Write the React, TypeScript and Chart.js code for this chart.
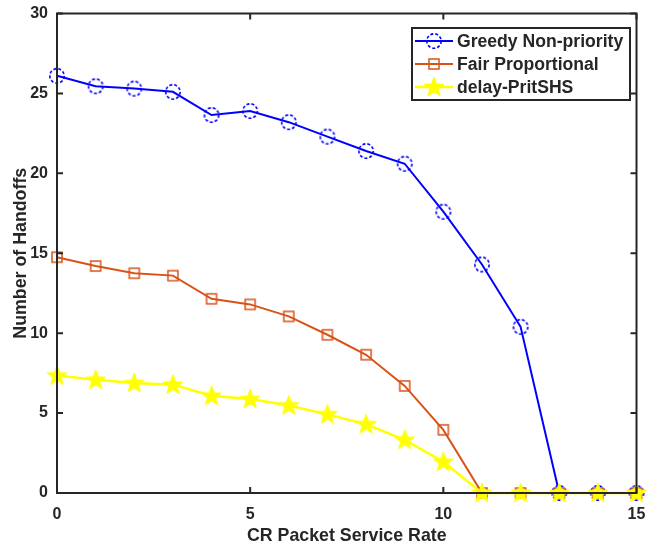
import React, { useEffect, useRef } from "react";
import { Chart, registerables } from "chart.js";

Chart.register(...registerables);

const xValues = [0, 1, 2, 3, 4, 5, 6, 7, 8, 9, 10, 11, 12, 13, 14, 15];
const greedy = [26.1, 25.45, 25.3, 25.1, 23.65, 23.9, 23.2, 22.3, 21.4, 20.6, 17.6, 14.3, 10.4, 0, 0, 0];
const fair = [14.75, 14.2, 13.75, 13.6, 12.15, 11.8, 11.05, 9.9, 8.65, 6.7, 3.95, 0, 0, 0, 0, 0];
const delay = [7.35, 7.08, 6.88, 6.78, 6.08, 5.88, 5.48, 4.92, 4.3, 3.33, 1.95, 0, 0, 0, 0, 0];
const seriesNames = ["Greedy Non-priority", "Fair Proportional", "delay-PritSHS"];
const xTitle = "CR Packet Service Rate";
const yTitle = "Number of Handoffs";

const BLUE = "#0000FF";
const ORANGE = "#D95319";
const YELLOW = "#FFFF00";
const AXIS = "#262626";
const FONT = "'Liberation Sans', Arial, sans-serif";

function makeCircle(): HTMLCanvasElement {
  const c = document.createElement("canvas");
  c.width = 20; c.height = 20;
  const g = c.getContext("2d")!;
  g.strokeStyle = BLUE;
  g.lineWidth = 1.6;
  g.setLineDash([3, 2]);
  g.beginPath();
  g.arc(10, 10, 7.2, 0, Math.PI * 2);
  g.stroke();
  return c;
}
function makeSquare(): HTMLCanvasElement {
  const c = document.createElement("canvas");
  c.width = 16; c.height = 16;
  const g = c.getContext("2d")!;
  g.strokeStyle = ORANGE;
  g.lineWidth = 1.5;
  g.strokeRect(3, 3, 10, 10);
  return c;
}
function makeStar(): HTMLCanvasElement {
  const c = document.createElement("canvas");
  c.width = 24; c.height = 24;
  const g = c.getContext("2d")!;
  g.fillStyle = YELLOW;
  g.strokeStyle = YELLOW;
  g.lineWidth = 1;
  const R = 10.5, r = 4.3, cx = 12, cy = 12.5;
  g.beginPath();
  for (let i = 0; i < 10; i++) {
    const rad = i % 2 === 0 ? R : r;
    const a = -Math.PI / 2 + (i * Math.PI) / 5;
    const px = cx + rad * Math.cos(a), py = cy + rad * Math.sin(a);
    if (i === 0) g.moveTo(px, py); else g.lineTo(px, py);
  }
  g.closePath();
  g.fill();
  g.stroke();
  return c;
}

export default function App() {
  const ref = useRef<HTMLCanvasElement | null>(null);
  useEffect(() => {
    document.body.style.margin = "0";
    const circle = makeCircle();
    const square = makeSquare();
    const star = makeStar();
    const markers = [circle, square, star];
    const colors = [BLUE, ORANGE, YELLOW];

    const boxPlugin = {
      id: "matlabBox",
      afterDatasetsDraw(chart: any) {
        const { ctx, chartArea } = chart;
        const { left, right, top, bottom } = chartArea;
        const xs = chart.scales.x, ys = chart.scales.y;
        ctx.save();
        ctx.strokeStyle = AXIS;
        ctx.lineWidth = 2;
        ctx.strokeRect(left, top, right - left, bottom - top);
        const tl = 6;
        ctx.beginPath();
        for (let v = 0; v <= 15; v += 5) {
          const px = xs.getPixelForValue(v);
          ctx.moveTo(px, bottom); ctx.lineTo(px, bottom - tl);
          ctx.moveTo(px, top); ctx.lineTo(px, top + tl);
        }
        for (let v = 0; v <= 30; v += 5) {
          const py = ys.getPixelForValue(v);
          ctx.moveTo(left, py); ctx.lineTo(left + tl, py);
          ctx.moveTo(right, py); ctx.lineTo(right - tl, py);
        }
        ctx.stroke();

        // legend
        const lx = 412, ly = 28, lw = 218, lh = 72;
        ctx.fillStyle = "#FFFFFF";
        ctx.fillRect(lx, ly, lw, lh);
        ctx.lineWidth = 2;
        ctx.strokeStyle = AXIS;
        ctx.strokeRect(lx, ly, lw, lh);
        const rows = [41, 64, 87];
        ctx.font = "bold 17.6px " + FONT;
        ctx.textBaseline = "middle";
        ctx.textAlign = "left";
        for (let i = 0; i < 3; i++) {
          const y = rows[i];
          ctx.strokeStyle = colors[i];
          ctx.lineWidth = i === 2 ? 2.5 : 2;
          ctx.beginPath();
          ctx.moveTo(415, y); ctx.lineTo(453, y);
          ctx.stroke();
          const m = markers[i];
          ctx.drawImage(m, 434 - m.width / 2, y - m.height / 2);
          ctx.fillStyle = AXIS;
          ctx.fillText(seriesNames[i], 457, y + 1);
        }
        ctx.restore();
      },
    };

    const chart = new Chart(ref.current!, {
      type: "line",
      data: {
        labels: xValues,
        datasets: [
          { label: seriesNames[0], data: xValues.map((x, i) => ({ x, y: greedy[i] })), borderColor: BLUE, borderWidth: 2, pointStyle: circle as any, pointRadius: 8, order: 3, clip: false as any },
          { label: seriesNames[1], data: xValues.map((x, i) => ({ x, y: fair[i] })), borderColor: ORANGE, borderWidth: 2, pointStyle: square as any, pointRadius: 7, order: 2, clip: false as any },
          { label: seriesNames[2], data: xValues.map((x, i) => ({ x, y: delay[i] })), borderColor: YELLOW, borderWidth: 2.5, pointStyle: star as any, pointRadius: 11, order: 1, clip: false as any },
        ],
      },
      options: {
        animation: false,
        responsive: false,
        maintainAspectRatio: false,
        layout: { padding: { top: 13, right: 11, left: 0, bottom: 0 } },
        plugins: { legend: { display: false }, tooltip: { enabled: false } },
        scales: {
          x: {
            type: "linear",
            min: 0,
            max: 15,
            grid: { display: false, drawTicks: false },
            border: { display: false },
            ticks: { stepSize: 5, color: AXIS, font: { family: FONT, size: 16, weight: "bold" }, padding: 12, maxRotation: 0 },
            title: { display: true, text: xTitle, color: AXIS, font: { family: FONT, size: 17.8, weight: "bold" }, padding: { top: 0, bottom: 0 } },
            afterFit: (s: any) => { s.height = 54; s.paddingLeft = 0; s.paddingRight = 0; },
          },
          y: {
            type: "linear",
            min: 0,
            max: 30,
            grid: { display: false, drawTicks: false },
            border: { display: false },
            ticks: { stepSize: 5, color: AXIS, font: { family: FONT, size: 16, weight: "bold" }, padding: 9 },
            title: { display: true, text: yTitle, color: AXIS, font: { family: FONT, size: 17.8, weight: "bold" }, padding: { top: 10, bottom: 0 } },
            afterFit: (s: any) => { s.width = 57; s.paddingTop = 0; s.paddingBottom = 0; },
          },
        },
      },
      plugins: [boxPlugin],
    });
    return () => chart.destroy();
  }, []);
  return <canvas ref={ref} width={650} height={547} style={{ display: "block" }} />;
}
